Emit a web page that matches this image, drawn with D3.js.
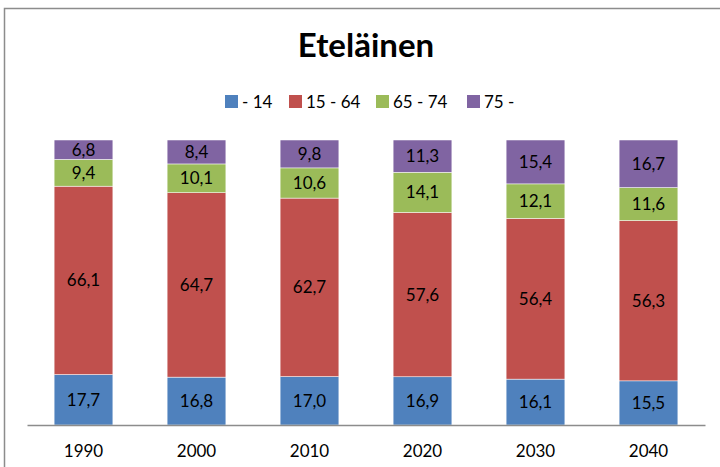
<!DOCTYPE html>
<html>
<head>
<meta charset="utf-8">
<script src="https://cdn.jsdelivr.net/npm/d3@7"></script>
<style>
  body { margin: 0; background: #fff; }
  svg { display: block; font-family: Lato, "Open Sans", sans-serif; }
</style>
</head>
<body>
<svg id="chart"></svg>
<script>
const years = ['1990', '2000', '2010', '2020', '2030', '2040'];
const seriesNames = ['- 14', '15 - 64', '65 - 74', '75 -'];
const young = [17.7, 16.8, 17.0, 16.9, 16.1, 15.5];
const working = [66.1, 64.7, 62.7, 57.6, 56.4, 56.3];
const older = [9.4, 10.1, 10.6, 14.1, 12.1, 11.6];
const oldest = [6.8, 8.4, 9.8, 11.3, 15.4, 16.7];
const colors = ['#4f81bd', '#c0504d', '#9bbb59', '#8064a2'];

const width = 720, height = 467;
const margin = { top: 140, right: 15, bottom: 42, left: 27 };
const innerWidth = width - margin.left - margin.right;
const innerHeight = height - margin.top - margin.bottom;

const svg = d3.select('#chart')
    .attr('width', width)
    .attr('height', height);

// kaavion reunaviivat (vasen ja yläreuna näkyvät kuvassa)
svg.append('path')
    .attr('d', `M4.5,${height}V8.5H${width}`)
    .attr('fill', 'none')
    .attr('stroke', '#8c8c8c')
    .attr('stroke-width', 1.5);

svg.append('text')
    .attr('x', 366).attr('y', 57)
    .attr('text-anchor', 'middle')
    .attr('font-size', 33)
    .attr('font-weight', 'bold')
    .text('Eteläinen');

const rows = years.map((y, i) => ({
    year: y,
    [seriesNames[0]]: young[i],
    [seriesNames[1]]: working[i],
    [seriesNames[2]]: older[i],
    [seriesNames[3]]: oldest[i]
}));

const stacked = d3.stack()
    .keys(seriesNames)
    .offset(d3.stackOffsetExpand)(rows);

const g = svg.append('g')
    .attr('transform', `translate(${margin.left}, ${margin.top})`);

const x = d3.scaleBand()
    .domain(years)
    .range([0, innerWidth])
    .paddingInner(0.48)
    .paddingOuter(0.24);

const yScale = d3.scaleLinear()
    .domain([0, 1])
    .range([innerHeight, 0]);

const fmt = v => d3.format('.1f')(v).replace('.', ',');

// pylväät
g.append('g').selectAll('g')
    .data(stacked)
    .enter()
    .append('g')
    .attr('fill', (d, i) => colors[i])
    .selectAll('rect')
    .data(d => d)
    .enter()
    .append('rect')
    .attr('x', d => x(d.data.year))
    .attr('y', d => yScale(d[1]))
    .attr('width', x.bandwidth())
    .attr('height', d => yScale(d[0]) - yScale(d[1]))
    .attr('stroke', '#fff')
    .attr('stroke-width', 0.5);

// arvot pylväiden päälle, kaikki palkkien jälkeen
const labels = stacked.flatMap(s => s.map(p => ({ p, key: s.key })));
g.append('g').selectAll('text')
    .data(labels)
    .enter()
    .append('text')
    .attr('x', d => x(d.p.data.year) + x.bandwidth() / 2)
    .attr('y', d => (yScale(d.p[0]) + yScale(d.p[1])) / 2)
    .attr('dy', '0.36em')
    .attr('text-anchor', 'middle')
    .attr('fill', '#000')
    .attr('font-size', 17)
    .text(d => fmt(d.p.data[d.key]));

// x-akseli
const xAxis = d3.axisBottom(x).tickSize(0).tickPadding(20);
const ax = g.append('g')
    .attr('transform', `translate(0, ${innerHeight})`)
    .call(xAxis);
ax.select('.domain').attr('stroke', '#8c8c8c').attr('stroke-width', 1.5);
ax.selectAll('text')
    .attr('font-size', 17)
    .attr('font-family', 'Lato, "Open Sans", sans-serif')
    .attr('fill', '#000');

// selite
const legendX = [225, 289, 376, 467];
const legend = svg.append('g');
seriesNames.forEach((name, i) => {
    legend.append('rect')
        .attr('x', legendX[i]).attr('y', 95)
        .attr('width', 13).attr('height', 13)
        .attr('fill', colors[i]);
    legend.append('text')
        .attr('x', legendX[i] + 17).attr('y', 102)
        .attr('dy', '0.36em')
        .attr('font-size', 17)
        .text(name);
});
</script>
</body>
</html>
